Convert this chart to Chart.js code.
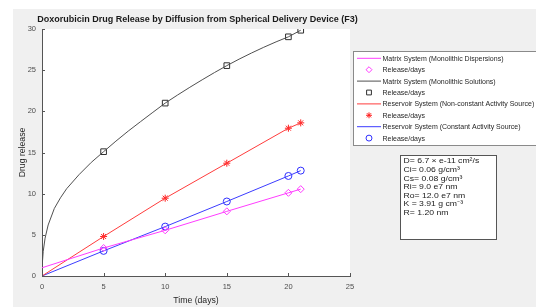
<!DOCTYPE html>
<html>
<head>
<meta charset="utf-8">
<script src="https://cdn.jsdelivr.net/npm/chart.js@4/dist/chart.umd.min.js"></script>
<style>
  html, body { margin: 0; padding: 0; background: #fff; }
  canvas { display: block; }
</style>
</head>
<body>
<canvas id="chart" width="536" height="307"></canvas>
<script>
  // release measured on these days
  const days = [5, 10, 15, 20, 21];
  const dispersionRelease = [3.4, 5.55, 7.85, 10.1, 10.55];
  const solutionRelease = [15.1, 21.0, 25.55, 29.05, 29.85];
  const nonConstRelease = [4.8, 9.45, 13.7, 17.95, 18.6];
  const constRelease = [3.05, 6.0, 9.05, 12.15, 12.8];

  // model lines
  const dispersionLineT = [0, 5, 10, 15, 20, 21];
  const dispersionLine = [1.0, 3.4, 5.55, 7.85, 10.1, 10.55];
  const solutionLineT = [0, 0.03, 0.1, 0.25, 0.5, 1, 1.5, 2, 3, 4, 5, 6, 7, 8, 9, 10, 11, 12, 13, 14, 15, 16, 17, 18, 19, 20, 21];
  const solutionLine = [0, 1.6, 3.0, 4.6, 6.2, 8.2, 9.5, 10.6, 12.3, 13.8, 15.1, 16.38, 17.6, 18.75, 19.88, 21.0, 21.98, 22.92, 23.83, 24.71, 25.55, 26.34, 27.08, 27.78, 28.44, 29.05, 29.85];
  const nonConstLineT = [0, 5, 10, 15, 20, 21];
  const nonConstLine = [0, 4.8, 9.45, 13.7, 17.95, 18.6];
  const constLineT = [0, 5, 10, 15, 20, 21];
  const constLine = [0, 3.05, 6.0, 9.05, 12.15, 12.8];

  const xTicks = [0, 5, 10, 15, 20, 25];
  const yTicks = [0, 5, 10, 15, 20, 25, 30];

  const chartTitle = "Doxorubicin Drug Release by Diffusion from Spherical Delivery Device (F3)";
  const infoLines = [
    "D= 6.7 \u00d7 e-11 cm\u00b2/s",
    "Ci= 0.06 g/cm\u00b3",
    "Cs= 0.08 g/cm\u00b3",
    "Ri= 9.0 e7 nm",
    "Ro= 12.0 e7 nm",
    "K = 3.91 g cm\u207b\u00b3",
    "R= 1.20 nm"
  ];

  const pts = (xs, ys) => xs.map((x, i) => ({ x: x, y: ys[i] }));
  const FONT = "'Liberation Sans', Arial, sans-serif";

  const lineSet = (label, xs, ys, color) => ({
    label: label,
    data: pts(xs, ys),
    showLine: true,
    borderColor: color,
    borderWidth: 1,
    pointRadius: 0,
    tension: 0
  });
  const markSet = (ys, color, style, r, fill) => ({
    label: "Release/days",
    data: pts(days, ys),
    showLine: false,
    borderColor: color,
    backgroundColor: fill,
    pointStyle: style,
    pointRadius: r,
    pointBorderWidth: 1
  });

  const ds = [
    lineSet("Matrix System (Monolithic Dispersions)", dispersionLineT, dispersionLine, "#ff3cff"),
    markSet(dispersionRelease, "#ff3cff", "rectRot", 3.5, "rgba(0,0,0,0)"),
    lineSet("Matrix System (Monolithic Solutions)", solutionLineT, solutionLine, "#505050"),
    markSet(solutionRelease, "#303030", "rect", 4, "rgba(0,0,0,0)"),
    lineSet("Reservoir System (Non-constant Activity Source)", nonConstLineT, nonConstLine, "#ff3c3c"),
    markSet(nonConstRelease, "#ff2020", "star", 3.5, "#ff2020"),
    lineSet("Reservoir System (Constant Activity Source)", constLineT, constLine, "#3c3cff"),
    markSet(constRelease, "#3030ff", "circle", 3.5, "rgba(0,0,0,0)")
  ];

  const figurePlugin = {
    id: "figure",
    beforeDraw(chart) {
      const c = chart.ctx, a = chart.chartArea;
      c.save();
      c.fillStyle = "#ffffff";
      c.fillRect(0, 0, chart.width, chart.height);
      c.fillStyle = "#f0f0f0";
      c.fillRect(13, 9, chart.width - 13, chart.height - 9);
      c.fillStyle = "#ffffff";
      c.fillRect(a.left, a.top, a.right - a.left, a.bottom - a.top);
      c.restore();
    },
    afterDraw(chart) {
      const c = chart.ctx, a = chart.chartArea;
      const xs = chart.scales.x, ys = chart.scales.y;
      c.save();
      // inward ticks
      c.strokeStyle = "#555";
      c.lineWidth = 1;
      c.beginPath();
      xTicks.forEach(v => {
        const px = Math.round(xs.getPixelForValue(v)) + 0.5;
        c.moveTo(px, a.bottom); c.lineTo(px, a.bottom - 3);
      });
      yTicks.forEach(v => {
        const py = Math.round(ys.getPixelForValue(v)) + 0.5;
        c.moveTo(a.left, py); c.lineTo(a.left + 3, py);
      });
      c.stroke();

      // title
      c.fillStyle = "#1a1a1a";
      c.font = "bold 9px " + FONT;
      c.textAlign = "center";
      c.textBaseline = "middle";
      c.fillText(chartTitle, 197.5, 19.5);

      // legend
      const lx = 353.5, ly = 51.5, rowH = 11.4;
      c.fillStyle = "#fff";
      c.fillRect(lx, ly, 190, 94);
      c.strokeStyle = "#8a8a8a";
      c.strokeRect(lx, ly, 190, 94);
      c.font = "7px " + FONT;
      c.textAlign = "left";
      chart.data.datasets.forEach((d, i) => {
        const y = 58.3 + i * rowH;
        if (d.showLine) {
          c.strokeStyle = d.borderColor;
          c.beginPath();
          c.moveTo(357, y); c.lineTo(381, y);
          c.stroke();
        } else {
          c.fillStyle = d.backgroundColor;
          c.strokeStyle = d.borderColor;
          c.lineWidth = 1;
          Chart.helpers.drawPoint(c, {
            pointStyle: d.pointStyle, radius: d.pointRadius * 0.85, borderWidth: 1
          }, 369, y);
        }
        c.fillStyle = "#262626";
        c.fillText(d.label, 382.5, y + 0.5);
      });

      // parameter box
      c.fillStyle = "#fff";
      c.fillRect(400.5, 155.5, 96, 84);
      c.strokeStyle = "#555";
      c.strokeRect(400.5, 155.5, 96, 84);
      c.fillStyle = "#1a1a1a";
      c.font = "8px " + FONT;
      infoLines.forEach((t, i) => {
        c.save();
        c.translate(403.5, 161 + i * 8.65);
        c.scale(1.08, 1);
        c.fillText(t, 0, 0);
        c.restore();
      });
      c.restore();
    }
  };

  const tickFont = { family: FONT, size: 7.5 };
  const titleFont = { family: FONT, size: 8.7 };
  new Chart(document.getElementById("chart").getContext("2d"), {
    type: "scatter",
    data: { datasets: ds },
    options: {
      responsive: false,
      animation: false,
      devicePixelRatio: 1,
      layout: { padding: { top: 29, right: 186, left: 0, bottom: 0 } },
      plugins: { legend: { display: false }, tooltip: { enabled: false } },
      scales: {
        x: {
          type: "linear", min: 0, max: 25,
          afterFit: s => { s.height = 31; },
          afterBuildTicks: s => { s.ticks = xTicks.map(v => ({ value: v })); },
          grid: { display: false, drawTicks: false },
          border: { display: true, color: "#555", width: 1 },
          ticks: { font: tickFont, color: "#4d4d4d", padding: 6, maxRotation: 0 },
          title: { display: true, text: "Time (days)", font: titleFont, color: "#262626", padding: { top: 0, bottom: 1.5 } }
        },
        y: {
          type: "linear", min: 0, max: 30,
          afterFit: s => { s.width = 42; },
          afterBuildTicks: s => { s.ticks = yTicks.map(v => ({ value: v })); },
          grid: { display: false, drawTicks: false },
          border: { display: true, color: "#555", width: 1 },
          ticks: { font: tickFont, color: "#4d4d4d", padding: 6 },
          title: { display: true, text: "Drug release", font: titleFont, color: "#262626", padding: { top: 17, bottom: 0 } }
        }
      }
    },
    plugins: [figurePlugin]
  });
</script>
</body>
</html>
